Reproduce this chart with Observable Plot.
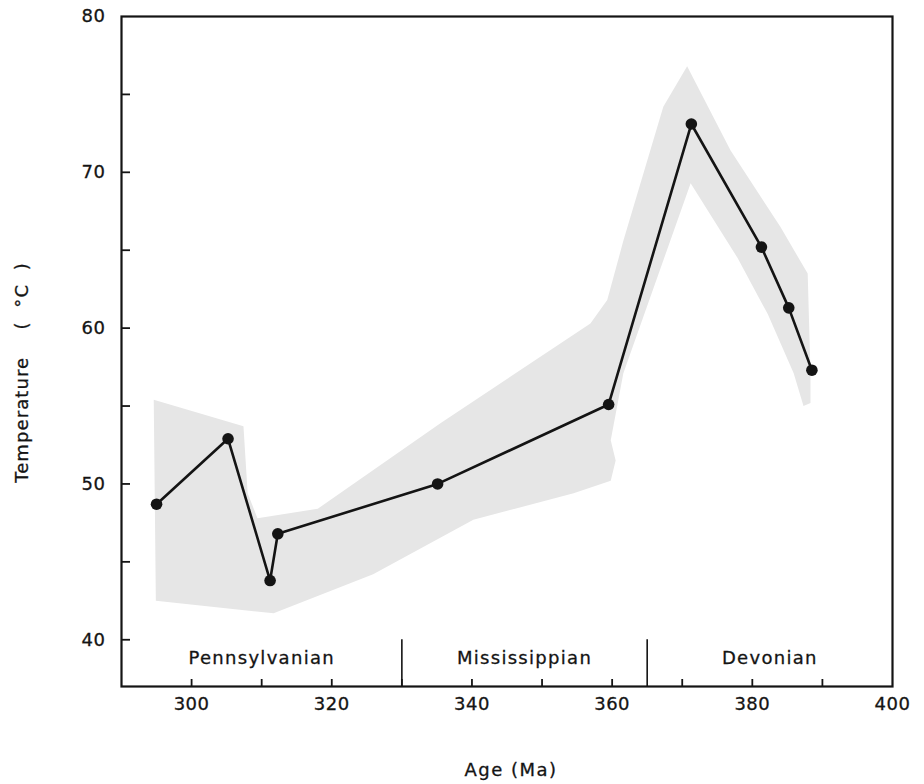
<!DOCTYPE html>
<html>
<head>
<meta charset="utf-8">
<script src="https://cdn.jsdelivr.net/npm/d3@7"></script>
<script src="https://cdn.jsdelivr.net/npm/@observablehq/plot@0.6"></script>
<style>
  html, body { margin: 0; padding: 0; background: #fff; }
  #chart { width: 924px; height: 784px; }
</style>
</head>
<body>
<div id="chart"></div>
<script>
// ---- data ----
const ages  = [295.0, 305.2, 311.2, 312.3, 335.1, 359.5, 371.3, 381.3, 385.2, 388.5];
const temps = [48.7, 52.9, 43.8, 46.8, 50.0, 55.1, 73.1, 65.2, 61.3, 57.3];

// shaded uncertainty envelope (outline, clockwise)
const envelopeAges  = [294.6, 307.4, 308.0, 309.4, 318.0, 335.5, 356.9, 359.3, 361.6, 367.3, 370.7,
                       376.9, 384.0, 387.9, 388.3, 388.3, 387.3, 385.9, 382.2, 377.9, 371.2,
                       361.6, 359.8, 360.5, 359.8, 354.5, 340.2, 325.9, 311.7, 294.9];
const envelopeTemps = [55.4, 53.7, 49.4, 47.8, 48.4, 53.9, 60.3, 61.8, 65.6, 74.2, 76.8,
                       71.4, 66.5, 63.5, 57.1, 55.2, 55.0, 57.1, 60.9, 64.5, 69.3,
                       57.1, 52.8, 51.5, 50.2, 49.4, 47.7, 44.2, 41.7, 42.5];

const periodNames  = ["Pennsylvanian", "Mississippian", "Devonian"];
const periodStarts = [290, 330, 365];
const periodEnds   = [330, 365, 400];
const boundaryAges = [330, 365];

const xDomain = [290, 400];
const yDomain = [37, 80];
const xLabelTicks = [300, 320, 340, 360, 380, 400];
const xMinorTicks = [300, 310, 320, 330, 340, 350, 360, 370, 380, 390];
const yLabelTicks = [40, 50, 60, 70, 80];
const yMinorTicks = [40, 45, 50, 55, 60, 65, 70, 75];

const xTitle = "Age (Ma)";
const yTitle = "Temperature\u00A0\u00A0\u00A0\u00A0(\u00A0\u00A0°C\u00A0\u00A0)";

// ---- tables ----
const points = ages.map((a, i) => ({age: a, temp: temps[i]}));
const envelope = envelopeAges.map((a, i) => ({age: a, temp: envelopeTemps[i]}));
const periods = periodNames.map((n, i) => ({name: n, mid: (periodStarts[i] + periodEnds[i]) / 2}));

const ink = "#141414";

const chart = Plot.plot({
  width: 924,
  height: 784,
  marginTop: 16,
  marginBottom: 98,
  marginLeft: 121,
  marginRight: 32,
  x: {domain: xDomain},
  y: {domain: yDomain},
  style: {fontFamily: "'DejaVu Sans', sans-serif", fontSize: "18px", color: ink, background: "#fff"},
  marks: [
    Plot.line(envelope, {x: "age", y: "temp", fill: "#e6e6e6", stroke: "none", curve: "linear-closed"}),
    Plot.ruleX(boundaryAges, {x: d => d, y1: yDomain[0], y2: 40.0, stroke: ink, strokeWidth: 1.6}),
    Plot.text(periods, {x: "mid", y: 38.8, text: "name", fontSize: 18, fill: ink}),
    Plot.line(points, {x: "age", y: "temp", stroke: ink, strokeWidth: 2.6}),
    Plot.dot(points, {x: "age", y: "temp", r: 5.8, fill: ink, stroke: "none"}),
    Plot.axisY(yLabelTicks, {anchor: "left", tickSize: 0, tickPadding: 16, fontSize: 18, label: null}),
    Plot.axisY(yMinorTicks, {anchor: "right", frameAnchor: "left", tickSize: 8, tickFormat: () => "", label: null, strokeWidth: 1.8}),
    Plot.axisX(xLabelTicks, {anchor: "bottom", tickSize: 0, tickPadding: 11, fontSize: 18, label: null}),
    Plot.axisX(xMinorTicks, {anchor: "top", frameAnchor: "bottom", tickSize: 8, tickFormat: () => "", label: null, strokeWidth: 1.8}),
    Plot.frame({stroke: ink, strokeWidth: 2.2}),
    Plot.text([yTitle], {frameAnchor: "left", textAnchor: "middle", lineAnchor: "middle", dx: -99, dy: 21, rotate: -90, fontSize: 18, fill: ink}),
    Plot.text([xTitle], {frameAnchor: "bottom", textAnchor: "middle", lineAnchor: "middle", dx: 4, dy: 84, fontSize: 18, fill: ink})
  ]
});

document.getElementById("chart").appendChild(chart);

// letter spacing and slight weight to mimic the lettering of the original
d3.select(chart).selectAll("text").each(function () {
  const t = this.textContent;
  if (periodNames.includes(t)) this.style.letterSpacing = "1.3px";
  else if (t === xTitle) this.style.letterSpacing = "1.5px";
  else if (t === yTitle) this.style.letterSpacing = "1.1px";
  else this.style.letterSpacing = "0.5px";
  this.style.stroke = ink;
  this.style.strokeWidth = "0.3px";
});
</script>
</body>
</html>
